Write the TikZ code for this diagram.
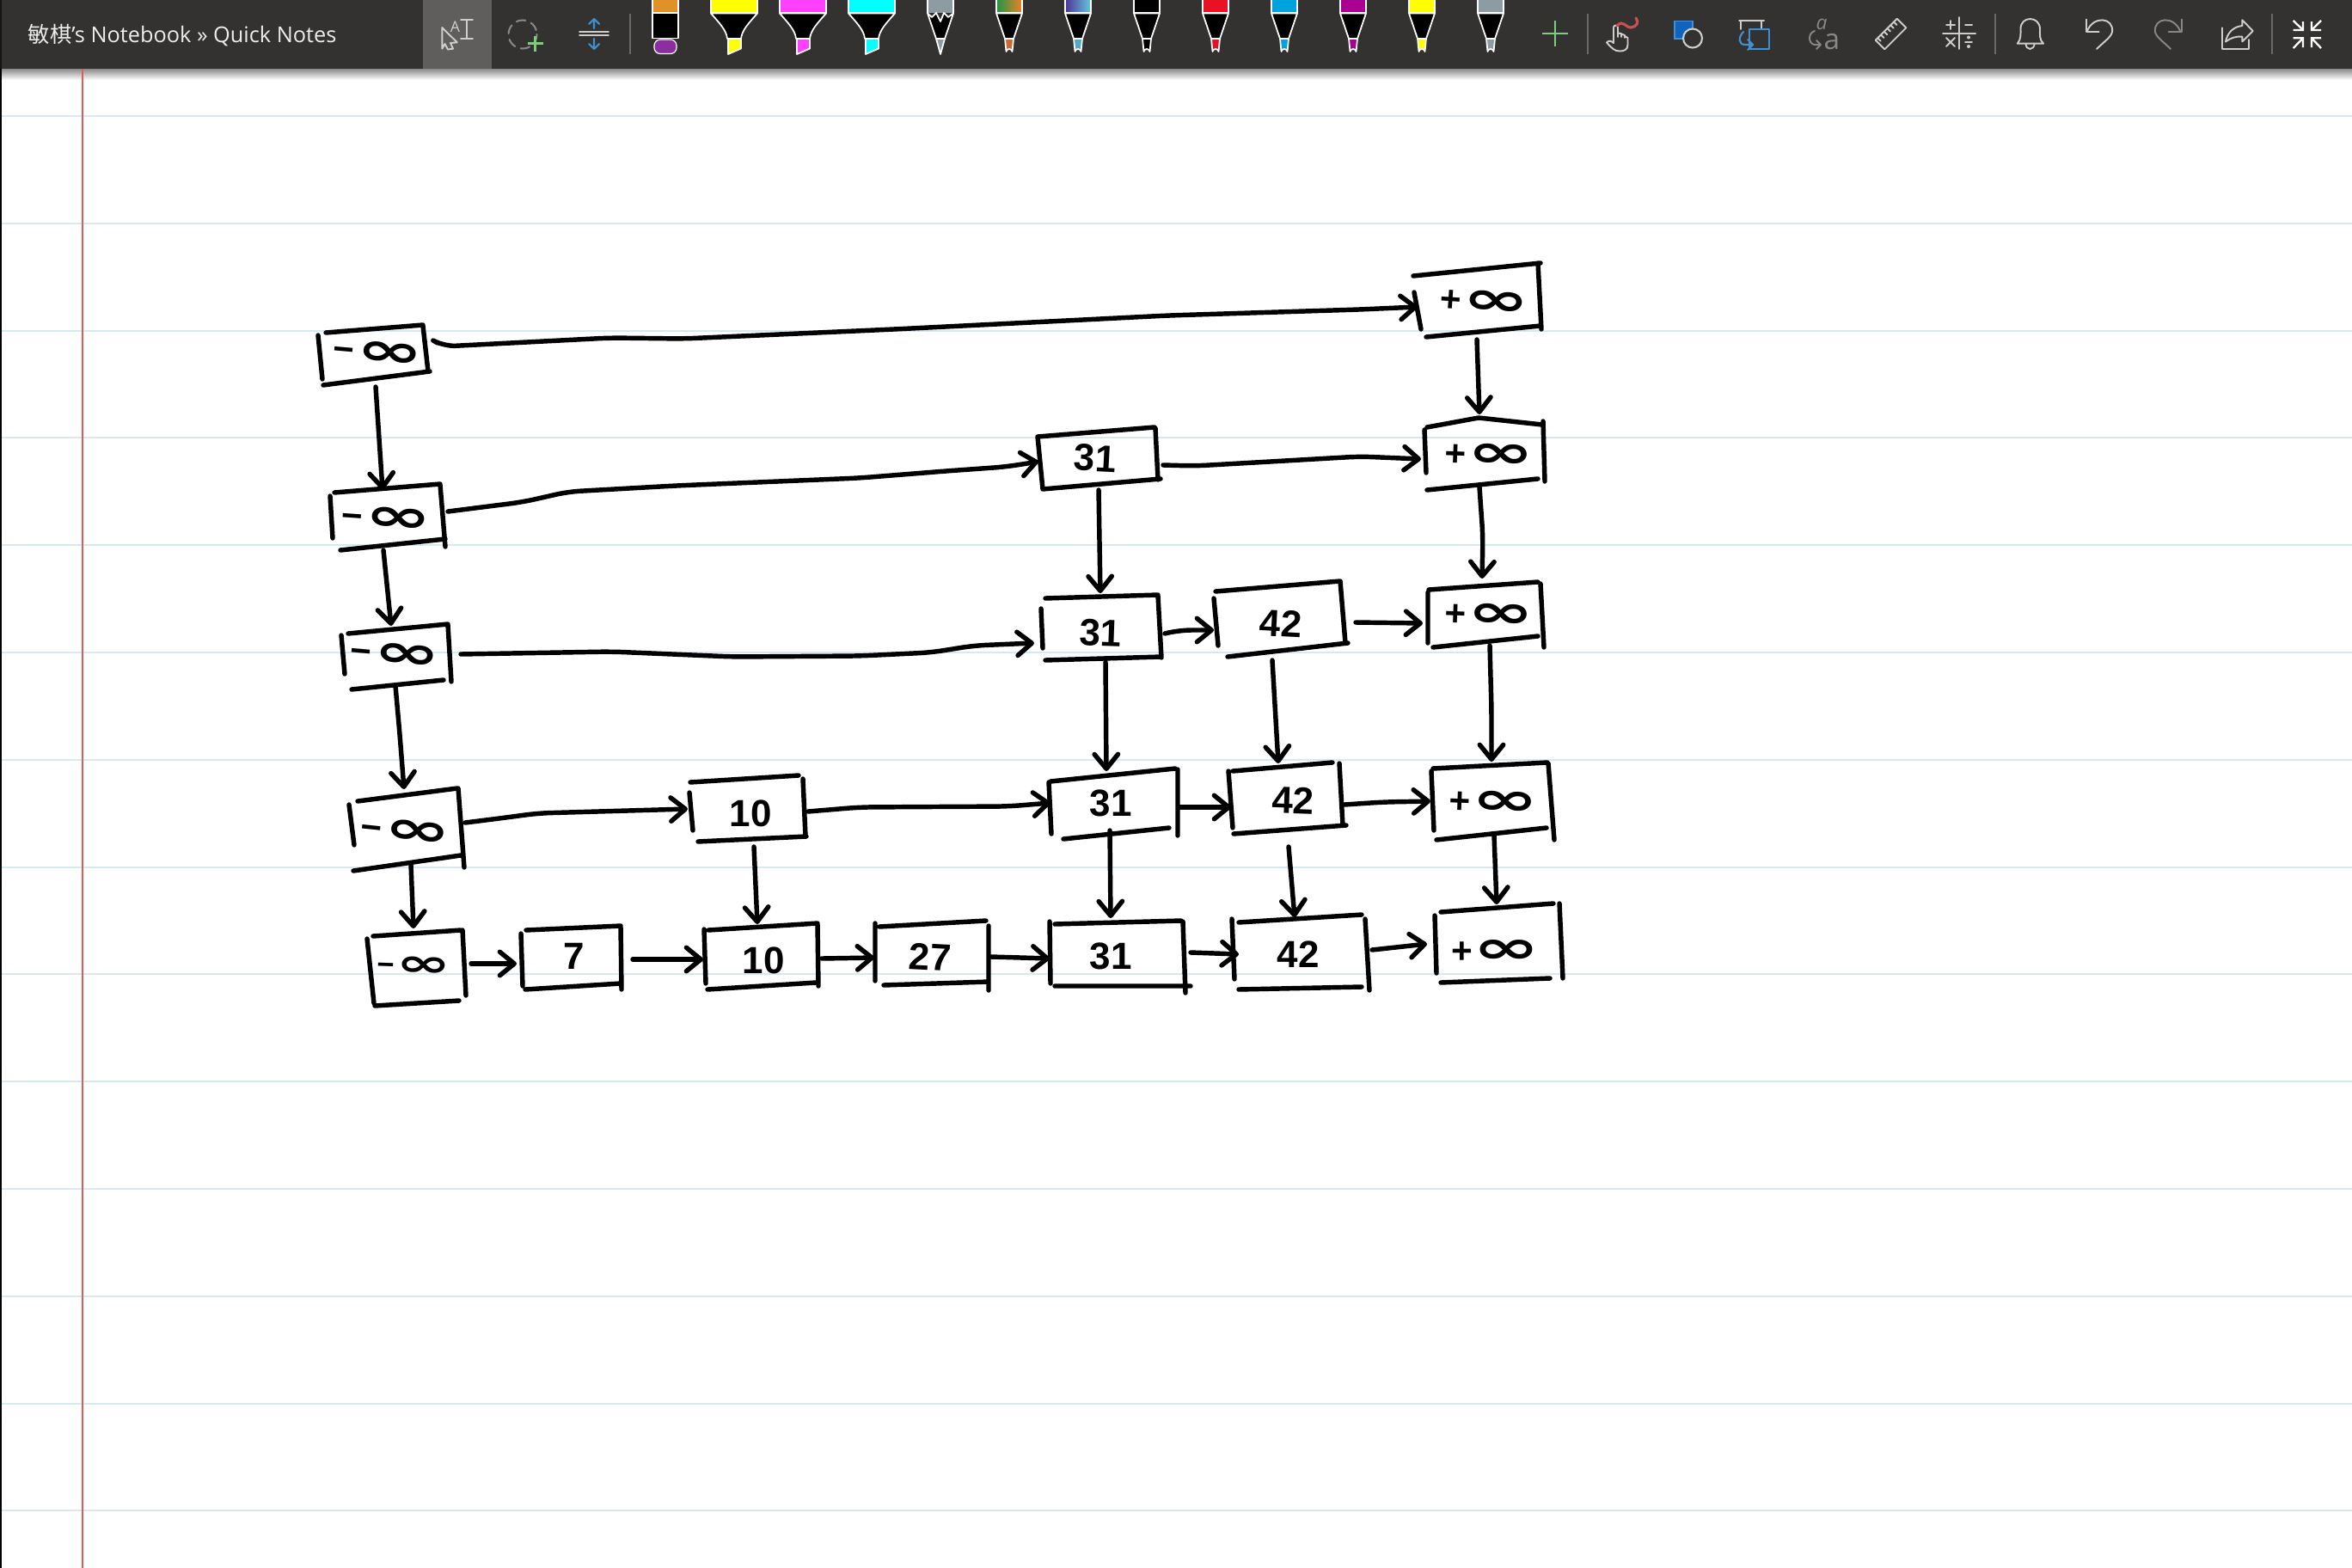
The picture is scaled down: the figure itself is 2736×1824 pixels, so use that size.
\documentclass[tikz,border=0pt]{standalone}
\usepackage{graphicx}
\usepackage{fontspec}
\setmainfont{Open Sans}
\newfontfamily\cjkf{Noto Sans CJK SC}
\newfontfamily\inkf{Liberation Sans}
\newfontfamily\dvf{DejaVu Sans}
\usetikzlibrary{arrows.meta,calc}
\definecolor{barbg}{RGB}{51,50,49}
\definecolor{barhi}{RGB}{95,94,93}
\definecolor{rule}{RGB}{214,232,241}
\definecolor{margin}{RGB}{220,92,92}
\definecolor{icong}{RGB}{205,205,205}
\definecolor{icond}{RGB}{135,135,135}
\definecolor{iconb}{RGB}{64,144,208}
\definecolor{icongr}{RGB}{122,207,122}
\definecolor{sep}{RGB}{105,105,105}
\definecolor{hlyellow}{RGB}{255,255,0}
\definecolor{hlmag}{RGB}{255,64,255}
\definecolor{hlcyan}{RGB}{0,255,255}
\definecolor{mkorange}{RGB}{226,145,40}
\definecolor{mkpurple}{RGB}{142,45,160}
\definecolor{rbgreen}{RGB}{30,150,70}
\definecolor{rbyellow}{RGB}{240,200,40}
\definecolor{rborange}{RGB}{235,130,40}
\definecolor{rbtip}{RGB}{205,105,50}
\definecolor{gxa}{RGB}{80,50,150}
\definecolor{gxb}{RGB}{100,200,225}
\definecolor{gxtip}{RGB}{80,170,200}
\definecolor{pnred}{RGB}{232,18,36}
\definecolor{pnblue}{RGB}{0,162,221}
\definecolor{pnpurple}{RGB}{170,0,145}
\definecolor{pngray}{RGB}{141,156,163}
\tikzset{
  x=0.01cm,y=-0.01cm,
  ink/.style={draw=black,line width=1.55pt,line cap=round,line join=round},
  arr/.style={ink,rounded corners=4pt,-{Straight Barb[length=4.8pt,width=7.8pt,round]}},
  lab/.style={inner sep=0pt,outer sep=0pt,rotate=#1},
  lab/.default=0,
  sepl/.style={draw=sep,line width=0.45pt},
  ico/.style={draw=icong,line width=0.55pt,line cap=round,line join=round},
  icob/.style={draw=iconb,line width=0.6pt,line cap=round,line join=round},
  penl/.style={draw=white,line width=0.5pt,line join=round},
}
\newcommand{\dig}[1]{{\inkf\bfseries\fontsize{12.5}{12.5}\selectfont #1}}
\newcommand{\infsym}{{\dvf\bfseries\fontsize{19}{19}\selectfont\scalebox{1.4}[0.8]{∞}}}
\newcommand{\neginf}{{\inkf\bfseries\fontsize{12}{12}\selectfont −}\hspace{0.6pt}\infsym}
\newcommand{\posinf}{{\inkf\bfseries\fontsize{12}{12}\selectfont +}\hspace{0.3pt}\infsym}
% sketched box: top, left, right, bottom stroke
\newcommand{\skbox}[4]{\draw[ink] #1 #2 #3 #4;}
% connector helper: from node,offset  via  to node,offset
\newcommand{\conn}[5]{\draw[arr] ([shift={(#2)}]#1.center) #3 -- ([shift={(#5)}]#4.center);}
% pens
\newcommand{\penicon}[3]{%
  \begin{scope}[shift={(#1,0)}]
    \path[penl,#2] (-15,-2) rectangle (15,15);
    \path[penl,fill=black] (-15,15.5) -- (-5,45) -- (5,45) -- (15,15.5) -- cycle;
    \path[penl,#3] (-5,45) -- (-3.5,60) arc[start angle=180,end angle=0,x radius=3.5,y radius=-3] -- (5,45) -- cycle;
  \end{scope}}
\newcommand{\hlicon}[2]{%
  \begin{scope}[shift={(#1,0)}]
    \path[penl,fill=#2] (-27,-2) rectangle (27,15);
    \path[penl,fill=black] (-27,15.5) .. controls (-17,27) and (-9,35) .. (-8,45) -- (8,45) .. controls (9,35) and (17,27) .. (27,15.5) -- cycle;
    \path[penl,fill=#2] (-7,45) -- (-7,63) -- (8,56.5) -- (8,45) -- cycle;
  \end{scope}}
\begin{document}
\begin{tikzpicture}
\useasboundingbox (0,0) rectangle (2736,1824);
\fill[white] (0,0) rectangle (2736,1824);
% ruled paper
\foreach \yy in {135,259.8,384.6,509.4,634.2,759,883.8,1008.6,1133.4,1258.2,1383,1507.8,1632.6,1757.4}
  \draw[rule,line width=0.6pt] (0,\yy) -- (2736,\yy);
% toolbar shadow and bar
\shade[top color=black!45,bottom color=white] (0,80) rectangle (2736,93);
\draw[margin,line width=0.42pt] (96,80) -- (96,1824);
\fill[black] (0,80) rectangle (2,1824);
\fill[barbg] (0,0) rectangle (2736,80);
\fill[black!60!barbg] (0,0) rectangle (2,80);
\fill[barhi] (492,0) rectangle (572,80);
\node[anchor=base west,inner sep=0pt,text=white!93!black] (title) at (32,49)
  {\fontsize{7.2}{7.2}\selectfont{\cjkf 敏棋}'s Notebook » Quick Notes};
% separators
\foreach \xx in {733,1847,2321,2643} \draw[sepl] (\xx,16) -- (\xx,63);
% select icon
\draw[ico] (514.3,32) -- (531.7,49.3) -- (524,50) -- (527,56.7) -- (521,57.5) -- (517.5,51) -- (514.3,56.7) -- cycle;
\node[inner sep=0pt,text=icong] (selA) at (529.5,31) {\fontsize{5}{5}\selectfont A};
\draw[ico] (542.7,23) -- (542.7,45) (536,23) -- (550,23) (536,45) -- (550,45);
% lasso
\draw[ico,draw=icond,line width=0.6pt,dash pattern=on 3pt off 2pt] (608,40) circle[radius=16.5];
\draw[draw=icongr,line width=0.9pt] (613.5,50.7) -- (632,50.7) (622.7,41.5) -- (622.7,60);
% insert space
\draw[ico,line width=0.5pt] (674,36.7) -- (708,36.7) (674,41.3) -- (708,41.3);
\draw[icob] (691,33) -- (691,22) (685,28) -- (691,22) -- (697,28);
\draw[icob] (691,45) -- (691,57) (685,51) -- (691,57) -- (697,51);
% pens
\begin{scope}[shift={(774,0)}]
  \path[penl,fill=mkorange] (-15,-2) rectangle (15,15);
  \path[penl,fill=black] (-15,15.5) rectangle (15,44.5);
  \path[draw=white,line width=0.35pt,fill=mkpurple,rounded corners=2pt] (-13,46) -- (-13,62.5) -- (13,62.5) -- (13,46) -- cycle;
\end{scope}
\hlicon{854}{hlyellow}
\hlicon{934}{hlmag}
\hlicon{1014}{hlcyan}
\begin{scope}[shift={(1094,0)}]
  \path[fill=pngray] (-15,-2) rectangle (15,15);
  \path[penl,fill=black] (-15,15.5) -- (-5,45) -- (5,45) -- (15,15.5) -- (9,20) -- (4,15) -- (0,25) -- (-5,15) -- (-10,20) -- cycle;
  \draw[penl] (-15,-2) -- (-15,15.5) (15,-2) -- (15,15.5);
  \path[penl,fill=pngray] (-5,45) -- (0,63) -- (5,45) -- cycle;
\end{scope}
\penicon{1174}{left color=rbgreen,middle color=rbyellow,right color=rborange}{fill=rbtip}
\penicon{1254}{left color=gxa,right color=gxb}{fill=gxtip}
\penicon{1334}{fill=black}{fill=black}
\penicon{1414}{fill=pnred}{fill=pnred}
\penicon{1494}{fill=pnblue}{fill=pnblue}
\penicon{1574}{fill=pnpurple}{fill=pnpurple}
\penicon{1654}{fill=hlyellow}{fill=hlyellow}
\penicon{1734}{fill=pngray}{fill=pngray}
% plus
\draw[draw=icongr,line width=0.5pt] (1794,39) -- (1824,39) (1809,24) -- (1809,54);
% touch icon
\draw[ico] (1877,50) -- (1877,32) arc[start angle=180,end angle=0,x radius=2.5,y radius=-2.5] -- (1882,43) -- (1882,38.5) -- (1886,39) -- (1886,43) -- (1886,39.5) -- (1890,41) -- (1890,44) -- (1890,42) -- (1893.5,44) -- (1893.5,52) .. controls (1893.5,58) and (1889,59.5) .. (1884,59.5) .. controls (1878,59.5) and (1875,56) .. (1869,49.5) .. controls (1871,47) and (1874,47) .. (1877,50);
\draw[draw={rgb,255:red,200;green,80;blue,80},line width=0.9pt,line cap=round] (1881,30) .. controls (1888,22) and (1892,33) .. (1897,32) .. controls (1904,31) and (1907,26) .. (1903,21);
% shapes icon
\draw[fill={rgb,255:red,16;green,100;blue,190},draw={rgb,255:red,64;green,144;blue,220},line width=0.5pt] (1948,24.5) rectangle (1969,45);
\draw[ico,fill=barbg,line width=0.6pt] (1969,44.5) circle[radius=11];
% ink to shape icon
\draw[ico] (2023,24) -- (2052,24) (2025,24) -- (2025,34) (2049,24) -- (2049,33);
\draw[icob] (2035,34.3) rectangle (2057.7,57.3);
\draw[icob] (2028,37) .. controls (2022,43) and (2022,52) .. (2030,52) -- (2039,52) (2033,46) -- (2039,52) -- (2033,58);
% ink to text icon
\node[inner sep=0pt,text=icond] (txa) at (2131,48.5) {\fontsize{9.5}{9.5}\selectfont a};
\node[inner sep=0pt,text=icond] (txb) at (2119,28) {\fontsize{6.5}{6.5}\selectfont\itshape a};
\draw[ico,draw=icond] (2111,36) .. controls (2103,38) and (2103,51) .. (2111,52) -- (2118,52) (2113,47) -- (2118,52) -- (2113,57);
% ruler
\draw[ico] (2206.7,21.7) -- (2217.3,32.3) -- (2192.3,57.3) -- (2181.7,46.7) -- cycle;
\foreach \t in {0.15,0.3,0.45,0.6,0.75,0.9}
  \draw[ico] ($(2206.7,21.7)!\t!(2181.7,46.7)$) -- +(3.5,3.5);
% math icon
\draw[ico] (2279,20) -- (2279,57) (2260,38.7) -- (2298,38.7);
\draw[ico] (2264,29) -- (2274,29) (2269,24) -- (2269,34) (2286,29) -- (2294,29);
\draw[ico] (2264,44) -- (2274,54) (2264,54) -- (2274,44) (2286,49) -- (2294,49);
\fill[icong] (2290,43.5) circle[radius=2] (2290,54) circle[radius=2];
% bell
\draw[ico] (2346.7,50.7) -- (2377,50.7) .. controls (2372,46) and (2373,40) .. (2373,34) .. controls (2373,18) and (2350,18) .. (2350.5,34) .. controls (2350.5,40) and (2351,46) .. cycle;
\draw[ico] (2356.5,51) arc[start angle=180,end angle=360,x radius=5,y radius=-6];
% undo and redo
\draw[ico] (2426.7,22.7) -- (2426.7,37.3) -- (2441.7,37.3);
\draw[ico] (2428,36) .. controls (2435,18) and (2459,20) .. (2457,37) .. controls (2456,43) and (2448,48) .. (2439,57);
\draw[ico,draw=icond] (2537.7,22.7) -- (2537.7,37.3) -- (2522.7,37.3);
\draw[ico,draw=icond] (2536,36) .. controls (2529,18) and (2505,20) .. (2507,37) .. controls (2508,43) and (2516,48) .. (2525,57);
% share
\draw[ico] (2585,32.3) -- (2585,57.3) -- (2616,57.3) -- (2616,46);
\draw[ico] (2589,48.5) .. controls (2591,38) and (2598,31) .. (2608.3,30) -- (2608.3,23.3) -- (2620.7,36) -- (2608.3,48.3) -- (2608.3,42.7) .. controls (2601,42) and (2595,44) .. (2589,48.5);
% collapse icon
\draw[draw=white,line width=0.65pt] (2667.7,24) -- (2679,35) (2679,25) -- (2679,35) -- (2667.7,35);
\draw[draw=white,line width=0.65pt] (2700,24) -- (2689,35) (2689,25) -- (2689,35) -- (2700,35);
\draw[draw=white,line width=0.65pt] (2667.7,56) -- (2679,44.3) (2667.7,44.3) -- (2679,44.3) -- (2679,55);
\draw[draw=white,line width=0.65pt] (2700,56) -- (2689,44.3) (2700,44.3) -- (2689,44.3) -- (2689,55);

% ---------- labelled boxes ----------
\node[lab=-5] (A1) at (440,411) {\neginf};
\node[lab=-4] (A2) at (450,604) {\neginf};
\node[lab=-5] (A3) at (460,762) {\neginf};
\node[lab=-6] (A4) at (472,968) {\neginf};
\node[lab=-2] (A5) at (482,1124) {\scalebox{0.82}{\neginf}};
\node[lab=0]  (S7) at (668,1112) {\dig{7}};
\node[lab=0]  (Ta) at (873,946) {\dig{10}};
\node[lab=0]  (Tb) at (888,1117) {\dig{10}};
\node[lab=-3] (T27) at (1082,1113) {\dig{27}};
\node[lab=-3] (Xa) at (1274,533) {\dig{31}};
\node[lab=-2] (Xb) at (1280,736) {\dig{31}};
\node[lab=0]  (Xc) at (1292,934) {\dig{31}};
\node[lab=0]  (Xd) at (1292,1112) {\dig{31}};
\node[lab=-3] (Fa) at (1490,725) {\dig{42}};
\node[lab=-2] (Fb) at (1504,931) {\dig{42}};
\node[lab=0]  (Fc) at (1510,1110) {\dig{42}};
\node[lab=-4] (P1) at (1727,352) {\posinf};
\node[lab=-2] (P2) at (1733,530) {\posinf};
\node[lab=-2] (P3) at (1733,716) {\posinf};
\node[lab=-2] (P4) at (1738,934) {\posinf};
\node[lab=0]  (P5) at (1740,1107) {\posinf};
% sketched outlines
\skbox{(379,387)--(492,378)}{(370,390)--(375,441)}{(492,379)--(498,432)}{(376,448)--(500,432)}
\skbox{(389,573)--(512,563)}{(384,577)--(387,626)}{(512,564)--(518,636)}{(396,640)--(518,627)}
\skbox{(405,737)--(521,726)}{(397,739)--(401,784)}{(521,727)--(525,793)}{(409,802)--(516,791)}
\skbox{(416,932)--(532,917)}{(406,936)--(412,983)}{(533,917)--(540,1009)}{(411,1013)--(536,995)}
\skbox{(434,1089)--(536,1082)}{(427,1092)--(435,1167)}{(538,1082)--(542,1158)}{(436,1170)--(534,1164)}
\skbox{(612,1082)--(722,1077)}{(606,1086)--(608,1147)}{(722,1078)--(723,1151)}{(611,1151)--(722,1144)}
\skbox{(803,910)--(929,902)}{(802,922)--(806,966)}{(934,906)--(937,973)}{(812,979)--(938,973)}
\skbox{(824,1082)--(951,1074)}{(819,1081)--(821,1144)}{(951,1075)--(952,1147)}{(823,1151)--(949,1143)}
\skbox{(1023,1078)--(1147,1071)}{(1018,1074)--(1018,1141)}{(1150,1077)--(1150,1152)}{(1028,1146)--(1150,1142)}
\skbox{(1207,508)--(1343,497)}{(1207,508)--(1213,569)}{(1344,498)--(1347,558)}{(1213,569)--(1350,557)}
\skbox{(1216,696)--(1347,692)}{(1211,708)--(1213,754)}{(1347,693)--(1351,765)}{(1216,768)--(1351,764)}
\skbox{(1222,909)--(1367,894)}{(1220,910)--(1223,970)}{(1370,895)--(1370,972)}{(1237,976)--(1360,963)}
\skbox{(1227,1075)--(1374,1071)}{(1221,1072)--(1222,1144)}{(1376,1072)--(1379,1155)}{(1227,1147)--(1385,1147)}
\skbox{(1414,688)--(1559,676)}{(1412,696)--(1417,751)}{(1559,676)--(1565,748)}{(1428,764)--(1568,748)}
\skbox{(1434,897)--(1550,887)}{(1429,897)--(1434,963)}{(1558,888)--(1562,960)}{(1435,970)--(1566,960)}
\skbox{(1441,1073)--(1584,1064)}{(1433,1069)--(1436,1139)}{(1588,1069)--(1593,1152)}{(1441,1151)--(1584,1148)}
\skbox{(1644,321)--(1792,306)}{(1645,340)--(1653,383)}{(1789,306)--(1793,383)}{(1659,392)--(1792,379)}
\skbox{(1660,497)--(1720,486)--(1794,494)}{(1657,500)--(1659,550)}{(1795,490)--(1797,560)}{(1660,570)--(1789,557)}
\skbox{(1662,686)--(1789,677)}{(1661,689)--(1661,748)}{(1792,679)--(1796,753)}{(1667,753)--(1789,740)}
\skbox{(1667,894)--(1800,887)}{(1665,897)--(1668,966)}{(1801,888)--(1808,977)}{(1671,977)--(1799,963)}
\skbox{(1676,1061)--(1807,1051)}{(1669,1065)--(1671,1132)}{(1814,1051)--(1818,1138)}{(1676,1143)--(1803,1138)}
% horizontal links
\conn{A1}{69,-12}{-- (516,403) -- (710,393) -- (795,394) -- (1040,383) -- (1180,376) -- (1359,367) -- (1582,360)}{P1}{-78,5}
\conn{A2}{71,-9}{-- (608,584) -- (661,572) -- (786,565) -- (1000,556) -- (1100,548) -- (1170,543)}{Xa}{-66,4}
\conn{Xa}{79,8}{-- (1390,542) -- (1582,531)}{P2}{-80,4}
\conn{A3}{76,-1}{-- (711,758) -- (853,764) -- (1000,763) -- (1083,759) -- (1133,751)}{Xb}{-77,12}
\conn{Xb}{75,1}{-- (1372,733)}{Fa}{-78,8}
\conn{Fa}{87,-1}{}{P3}{-78,9}
\conn{A4}{69,-11}{-- (581,952) -- (626,946)}{Ta}{-73,-5}
\conn{Ta}{67,-2}{-- (1000,939) -- (1173,938)}{Xc}{-70,0}
\conn{Xc}{80,5}{}{Fb}{-72,8}
\conn{Fb}{60,5}{-- (1609,933)}{P4}{-74,-2}
\conn{A5}{66,-3}{}{S7}{-67,9}
\conn{S7}{68,4}{}{Tb}{-70,-1}
\conn{Tb}{68,-2}{}{T27}{-65,1}
\conn{T27}{71,0}{}{Xd}{-71,3}
\conn{Xd}{93,-4}{}{Fc}{-69,0}
\conn{Fc}{86,-5}{}{P5}{-80,-9}
% vertical links
\conn{A1}{-3,39}{}{A2}{-5,-34}
\conn{A2}{-4,36}{}{A3}{-5,-34}
\conn{A3}{0,36}{-- (465,854)}{A4}{-2,-50}
\conn{A4}{6,38}{}{A5}{-1,-44}
\conn{Ta}{4,39}{}{Tb}{-7,-42}
\conn{P1}{-9,43}{}{P2}{-12,-48}
\conn{P2}{-12,37}{-- (1725,624)}{P3}{-9,-43}
\conn{P3}{0,35}{-- (1735,825)}{P4}{-3,-48}
\conn{P4}{0,38}{}{P5}{1,-55}
\conn{Xa}{4,37}{}{Xb}{0,-46}
\conn{Xb}{6,34}{}{Xc}{-5,-37}
\conn{Xc}{-1,32}{}{Xd}{0,-44}
\conn{Fa}{-10,43}{}{Fb}{-17,-43}
\conn{Fb}{-5,54}{}{Fc}{-4,-43}
\end{tikzpicture}
\end{document}
